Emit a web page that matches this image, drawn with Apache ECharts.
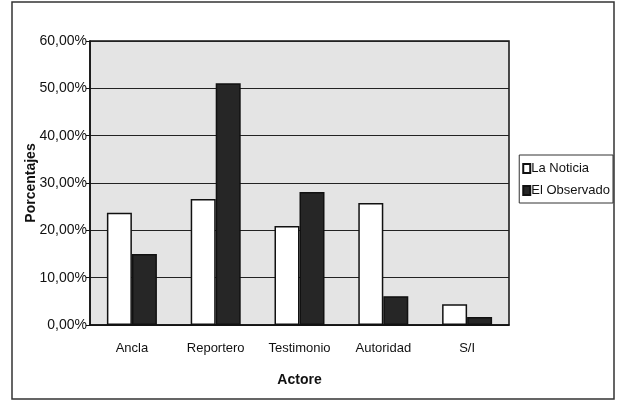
<!DOCTYPE html>
<html>
<head>
<meta charset="utf-8">
<script src="https://cdn.jsdelivr.net/npm/echarts@6/dist/echarts.min.js"></script>
<style>
html,body{margin:0;padding:0;background:#fff;}
#chart{width:617px;height:410px;}
</style>
</head>
<body>
<div id="chart"></div>
<script>
var categories = ['Ancla', 'Reportero', 'Testimonio', 'Autoridad', 'S/I'];
var laNoticia = [23.7, 26.6, 20.9, 25.8, 4.4];
var elObservado = [15.0, 51.1, 28.1, 6.1, 1.7];
var yTicks = [0, 10, 20, 30, 40, 50, 60];

var font = "'Liberation Sans', Arial, sans-serif";
var chart = echarts.init(document.getElementById('chart'));

var option = {
    backgroundColor: '#fff',
    animation: false,
    textStyle: {fontFamily: font},
    grid: {left: 90, right: 108, top: 41, bottom: 85,
        show: true, backgroundColor: '#e4e4e4', borderColor: '#111', borderWidth: 1.5},
    legend: {
        orient: 'vertical',
        right: 4, top: 155,
        icon: 'rect',
        itemWidth: 7, itemHeight: 9, itemGap: 9,
        padding: [7, 3, 6, 3],
        borderColor: '#333', borderWidth: 1,
        textStyle: {fontFamily: font, fontSize: 13, color: '#111', padding: [0, 0, 0, -4]},
        data: ['La Noticia', 'El Observado']
    },
    xAxis: {
        type: 'category',
        data: categories,
        name: 'Actore',
        nameLocation: 'middle',
        nameGap: 48,
        nameMoveOverlap: false,
        nameTextStyle: {fontFamily: font, fontSize: 14, fontWeight: 'bold', color: '#111'},
        axisLine: {lineStyle: {color: '#111', width: 1.5}},
        axisTick: {show: false},
        axisLabel: {fontFamily: font, fontSize: 13, color: '#111', margin: 17, interval: 0}
    },
    yAxis: {
        type: 'value',
        min: yTicks[0], max: yTicks[yTicks.length - 1], interval: 10,
        name: 'Porcentajes',
        nameLocation: 'middle',
        nameGap: 52,
        nameMoveOverlap: false,
        nameTextStyle: {fontFamily: font, fontSize: 14, fontWeight: 'bold', color: '#111'},
        axisLine: {show: true, lineStyle: {color: '#111', width: 1.5}},
        axisTick: {show: true, length: 4, lineStyle: {color: '#111'}},
        splitLine: {lineStyle: {color: '#222', width: 1}},
        axisLabel: {
            fontFamily: font, fontSize: 14, color: '#111', margin: 3,
            formatter: function (v) { return v.toFixed(2).replace('.', ',') + '%'; }
        }
    },
    series: [
        {
            name: 'La Noticia', type: 'bar', data: laNoticia,
            barWidth: 25, barGap: '0%',
            itemStyle: {color: '#fff', borderColor: '#111', borderWidth: 1.5}
        },
        {
            name: 'El Observado', type: 'bar', data: elObservado,
            barWidth: 25,
            itemStyle: {color: '#262626', borderColor: '#111', borderWidth: 1.5}
        }
    ],
    graphic: [{
        type: 'rect', silent: true,
        shape: {x: 12, y: 2, width: 602, height: 397},
        style: {fill: null, stroke: '#333', lineWidth: 1.5}
    }]
};

chart.setOption(option);
</script>
</body>
</html>
